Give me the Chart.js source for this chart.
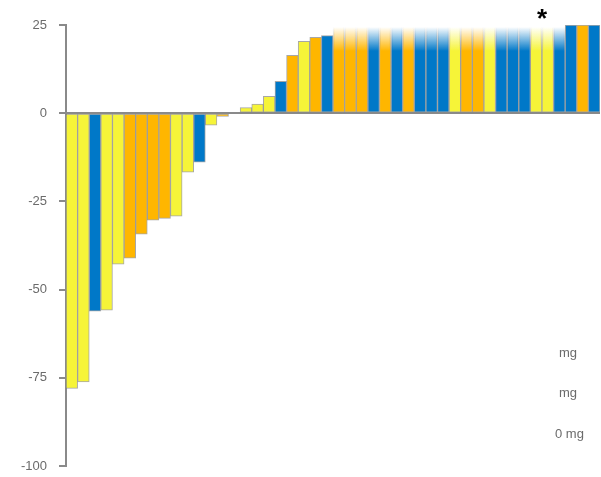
<!DOCTYPE html>
<html lang="en">
<head>
    <meta charset="UTF-8">
    <title>Waterfall</title>
    <script src="https://cdn.jsdelivr.net/npm/chart.js@4.4.0/dist/chart.umd.min.js"></script>
    <style>
        html, body { margin: 0; padding: 0; background: #fff; overflow: hidden; }
        canvas { display: block; }
    </style>
</head>
<body>
    <canvas id="waterfall" width="601" height="477"></canvas>

    <script>
        // best % change per patient, sorted
        const changes = [-78, -76.2, -56.1, -55.8, -42.8, -41.1, -34.3, -30.3, -29.8, -29.2,
                         -16.7, -13.9, -3.4, -0.9, 0, 1.6, 2.6, 4.8, 9.0, 16.4,
                         20.4, 21.5, 22.0, 25, 25, 25, 25, 25, 25, 25,
                         25, 25, 25, 25, 25, 25, 25, 25, 25, 25,
                         25, 25, 25, 25, 25, 25];
        // dose group per patient: Y / O / B
        const doseGroup = ['Y','Y','B','Y','Y','O','O','O','O','Y',
                           'Y','B','Y','O','Y','Y','Y','Y','B','O',
                           'Y','O','B','O','O','O','B','O','B','O',
                           'B','B','B','Y','O','O','Y','B','B','B',
                           'Y','Y','B','B','O','B'];
        // value runs past the top of the axis
        const offScale = [false,false,false,false,false,false,false,false,false,false,
                          false,false,false,false,false,false,false,false,false,false,
                          false,false,false,true,true,true,true,true,true,true,
                          true,true,true,true,true,true,true,true,true,true,
                          true,true,true,false,false,false];
        const patients = changes.map((v, i) => 'P' + (i + 1));
        const yTicks = [-100, -75, -50, -25, 0, 25];
        const legendLabels = ['mg', 'mg', '0 mg'];

        const groupRgb = {
            Y: [246, 244, 56],
            O: [255, 182, 0],
            B: [0, 120, 200]
        };

        function rgba(c, a) {
            return 'rgba(' + c[0] + ',' + c[1] + ',' + c[2] + ',' + a + ')';
        }

        function fill(ctx, rgb, solidAlpha) {
            const i = ctx.dataIndex;
            const area = ctx.chart.chartArea;
            if (!offScale[i] || !area) return rgba(rgb, solidAlpha);
            const g = ctx.chart.ctx.createLinearGradient(0, area.top + 2, 0, area.top + 26);
            g.addColorStop(0, rgba(rgb, 0));
            g.addColorStop(1, rgba(rgb, solidAlpha));
            return g;
        }

        const extraText = {
            id: 'extraText',
            afterDraw(chart) {
                const c = chart.ctx;
                c.save();
                c.fillStyle = '#6b6b6b';
                c.font = '13px "Liberation Sans", Arial, sans-serif';
                c.textBaseline = 'middle';
                c.textAlign = 'left';
                c.fillText(legendLabels[0], 559, 353);
                c.fillText(legendLabels[1], 559, 393);
                c.fillText(legendLabels[2], 555, 434);
                c.fillStyle = '#000';
                c.font = 'bold 26px "Liberation Sans", Arial, sans-serif';
                c.textAlign = 'center';
                c.textBaseline = 'alphabetic';
                c.fillText('*', 542, 27);
                c.restore();
            }
        };

        const ctx = document.getElementById('waterfall').getContext('2d');
        const waterfall = new Chart(ctx, {
            type: 'bar',
            data: {
                labels: patients,
                datasets: [{
                    data: changes,
                    backgroundColor: (c) => fill(c, groupRgb[doseGroup[c.dataIndex]], 1),
                    borderColor: (c) => fill(c, [130, 130, 130], 0.7),
                    borderWidth: 1,
                    borderSkipped: false,
                    barPercentage: 1,
                    categoryPercentage: 1
                }]
            },
            options: {
                responsive: false,
                animation: false,
                layout: {
                    padding: { top: 25, right: 1, bottom: 11, left: 9 }
                },
                plugins: {
                    legend: { display: false },
                    tooltip: { enabled: false }
                },
                scales: {
                    x: {
                        display: false
                    },
                    y: {
                        min: -100,
                        max: 25,
                        z: 1,
                        afterBuildTicks: (s) => { s.ticks = yTicks.map(v => ({ value: v })); },
                        afterFit: (s) => { s.paddingTop = 0; s.paddingBottom = 0; },
                        ticks: {
                            color: '#6b6b6b',
                            padding: 12,
                            font: { family: '"Liberation Sans", Arial, sans-serif', size: 13 }
                        },
                        border: { color: '#8a8a8a', width: 2 },
                        grid: {
                            color: (c) => c.tick && c.tick.value === 0 ? '#8a8a8a' : 'rgba(0,0,0,0)',
                            lineWidth: 2,
                            tickColor: '#8a8a8a',
                            tickLength: 7
                        }
                    }
                }
            },
            plugins: [extraText]
        });
    </script>
</body>
</html>
